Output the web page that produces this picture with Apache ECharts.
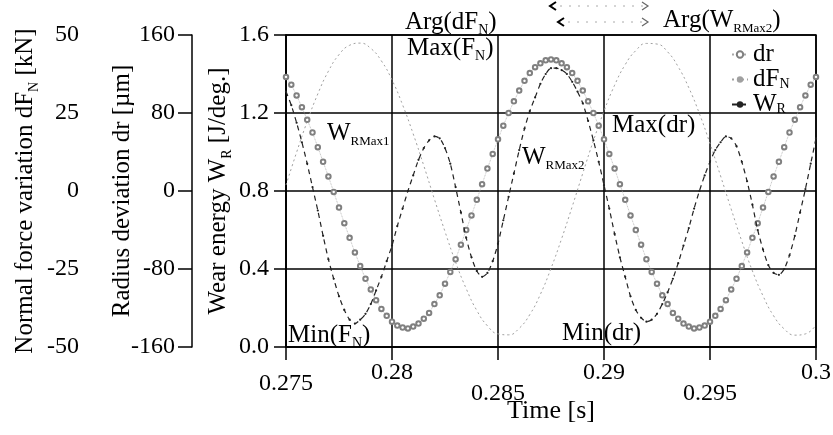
<!DOCTYPE html>
<html><head><meta charset="utf-8">
<script src="https://cdn.jsdelivr.net/npm/echarts@6.0.0/dist/echarts.min.js"></script>
<style>html,body{margin:0;padding:0;background:#fff}#c{width:833px;height:435px}</style>
</head><body><div id="c"></div>
<script>
// ---- data ----
const timeStart = 0.275;          // s
const timeStepFine = 0.00025;     // sampling of dr and W_R
const timeStepCoarse = 0.0005;    // sampling of dF_N

// Radius deviation dr [µm]
const drValues = [117,109,98,86,73,60,45,30,15,-1,
 -17,-33,-48,-63,-77,-90,-101,-112,-121,-128,
 -134,-138,-140,-141,-139,-136,-131,-125,-116,-107,
 -95,-83,-70,-55,-40,-25,-9,7,23,38,
 53,67,80,92,103,113,121,127,131,134,
 135,134,131,127,121,113,103,92,80,67,
 53,38,23,7,-9,-25,-40,-55,-70,-83,
 -95,-107,-116,-125,-131,-136,-139,-141,-140,-138,
 -134,-128,-121,-112,-101,-90,-77,-63,-48,-33,
 -17,-1,15,30,45,60,73,86,98,109,
 117];

// Normal force variation dF_N [kN]
const dFNValues = [1.9,12.4,22.3,31.1,38.4,43.7,46.7,47.4,45.7,41.7,
 35.6,27.6,18.3,8.1,-2.6,-13.0,-22.8,-31.3,-38.3,-43.2,
 -45.8,-46.1,-44.0,-39.6,-33.1,-24.8,-15.3,-5.0,5.7,16.1,
 25.6,33.9,40.5,45.0,47.3,47.1,44.6,39.8,33.1,24.8,
 15.2,4.8,-5.8,-16.1,-25.6,-33.6,-40.0,-44.2,-46.2,-45.8,
 -42.9];

// Wear energy W_R [J/deg.]
const wrValues = [1.31,1.24,1.15,1.05,0.94,0.82,0.70,0.57,0.45,0.35,
 0.26,0.19,0.14,0.12,0.14,0.17,0.22,0.29,0.36,0.44,
 0.52,0.62,0.71,0.80,0.88,0.96,1.02,1.06,1.08,1.07,
 1.02,0.94,0.82,0.69,0.56,0.46,0.39,0.36,0.38,0.44,
 0.53,0.65,0.77,0.89,1.01,1.12,1.21,1.28,1.35,1.40,
 1.43,1.43,1.42,1.40,1.36,1.31,1.25,1.16,1.06,0.95,
 0.83,0.71,0.58,0.46,0.36,0.26,0.19,0.15,0.13,0.14,
 0.17,0.22,0.28,0.35,0.43,0.52,0.61,0.71,0.80,0.88,
 0.95,1.01,1.05,1.08,1.07,1.03,0.95,0.85,0.73,0.60,
 0.50,0.42,0.38,0.37,0.40,0.47,0.57,0.69,0.81,0.94,
 1.07];

const xTickLabels = ['0.275','0.28','0.285','0.29','0.295','0.3'];
const wTickLabels = ['0.0','0.4','0.8','1.2','1.6'];
const drTickLabels = ['-160','-80','0','80','160'];
const dFTickLabels = ['-50','-25','0','25','50'];
const seriesNames = ['dr','dF_N','W_R'];

// ---- styling ----
const SERIF = '"Liberation Serif","Times New Roman",serif';
const BIG = 25, SMALL = 14, TICK = 24;
function subRich(lh){
  return {
    m:{fontSize:BIG,fontFamily:SERIF,color:'#000',lineHeight:lh,verticalAlign:'middle'},
    s:{fontSize:SMALL,fontFamily:SERIF,color:'#000',lineHeight:lh,verticalAlign:'bottom'},
    t:{fontSize:13,fontFamily:SERIF,color:'#000',lineHeight:lh,verticalAlign:'bottom'}
  };
}
const xLevel = ['mid','hi','lo','hi','lo','hi'];

const chart = echarts.init(document.getElementById('c'));
const black = {color:'#000', width:1.5};

const option = {
  animation:false,
  backgroundColor:'#fff',
  grid:{left:286,right:17,top:35,bottom:88,show:true,borderColor:'#000',borderWidth:1.5,
        containLabel:false, outerBoundsMode:'none'},
  legend:{
    orient:'vertical', left:726, top:37, itemGap:0, itemWidth:16, itemHeight:8,
    data:seriesNames,
    formatter:n=>({dr:'{m|dr}',dF_N:'{m|dF}{s|N}',W_R:'{m|W}{s|R}'})[n],
    textStyle:{rich:subRich(24)}
  },
  xAxis:{
    type:'value', min:0.275, max:0.3, interval:0.005,
    name:'Time [s]', nameLocation:'middle', nameGap:51, nameMoveOverlap:false,
    nameTextStyle:{fontSize:26,fontFamily:SERIF,color:'#000'},
    axisLine:{lineStyle:black}, axisTick:{show:true,length:13,lineStyle:black},
    splitLine:{show:true,lineStyle:black},
    axisLabel:{
      margin:14,
      formatter:v=>{const k=Math.round((v-0.275)/0.005);return '{'+xLevel[k]+'|'+xTickLabels[k]+'}';},
      rich:{
        hi:{fontSize:TICK,fontFamily:SERIF,color:'#000'},
        mid:{fontSize:TICK,fontFamily:SERIF,color:'#000',padding:[11,0,0,0]},
        lo:{fontSize:TICK,fontFamily:SERIF,color:'#000',padding:[21,0,0,0]}
      }
    }
  },
  yAxis:[
    {type:'value', position:'left', offset:0, min:0, max:1.6, interval:0.4,
     name:'{m|Wear energy W}{s|R}{m| [J/deg.]}', nameLocation:'middle', nameGap:52, nameMoveOverlap:false,
     nameTextStyle:{rich:subRich(31)},
     axisLine:{show:true,lineStyle:black}, axisTick:{show:true,length:12,lineStyle:black},
     splitLine:{show:true,lineStyle:black},
     axisLabel:{margin:17,fontSize:TICK,fontFamily:SERIF,color:'#000',
       formatter:v=>wTickLabels[Math.round(v/0.4)]}},
    {type:'value', position:'left', offset:94, min:-160, max:160, interval:80,
     name:'{m|Radius deviation dr [µm]}', nameLocation:'middle', nameGap:54, nameMoveOverlap:false,
     nameTextStyle:{rich:subRich(31)},
     axisLine:{show:true,lineStyle:black}, axisTick:{show:true,length:14,lineStyle:black},
     splitLine:{show:false},
     axisLabel:{margin:17,fontSize:TICK,fontFamily:SERIF,color:'#000',
       formatter:v=>drTickLabels[Math.round((v+160)/80)]}},
    {type:'value', position:'left', offset:200, min:-50, max:50, interval:25,
     name:'{m|Normal force variation dF}{s|N}{m| [kN]}', nameLocation:'middle', nameGap:45, nameMoveOverlap:false,
     nameTextStyle:{rich:subRich(31)},
     axisLine:{show:false}, axisTick:{show:false}, splitLine:{show:false},
     axisLabel:{margin:7,fontSize:TICK,fontFamily:SERIF,color:'#000',
       formatter:v=>dFTickLabels[Math.round((v+50)/25)]}}
  ],
  series:[
    {name:'dr', type:'line', yAxisIndex:1, z:3,
     data:drValues.map((v,i)=>[timeStart+i*timeStepFine, v]),
     symbol:'emptyCircle', symbolSize:4.5, showAllSymbol:true,
     itemStyle:{color:'#808080', borderWidth:0.8},
     lineStyle:{color:'#a8a8a8', width:0.8, type:'dotted'}},
    {name:'dF_N', type:'line', yAxisIndex:2, smooth:true, z:2,
     data:dFNValues.map((v,i)=>[timeStart+i*timeStepCoarse, v]),
     symbol:'none', itemStyle:{color:'#a0a0a0'},
     lineStyle:{color:'#a0a0a0', width:1, type:[2,3]}},
    {name:'W_R', type:'line', yAxisIndex:0, smooth:0.25, z:4,
     data:wrValues.map((v,i)=>[timeStart+i*timeStepFine, v]),
     symbol:'circle', symbolSize:2.2, showAllSymbol:true,
     itemStyle:{color:'#222'},
     lineStyle:{color:'#222', width:1.2, type:[5,4]}}
  ],
  graphic:[]
};

function annot(x, y, text){
  return {type:'text', x:x, y:y, z:10, silent:true,
    style:{text:text, rich:subRich(30), align:'left', verticalAlign:'middle'}};
}
option.graphic = [
  annot(405, 22, '{m|Arg(dF}{s|N}{m|)}'),
  annot(407, 48, '{m|Max(F}{s|N}{m|)}'),
  annot(327, 133, '{m|W}{t|RMax1}'),
  annot(522, 157, '{m|W}{t|RMax2}'),
  annot(612, 125, '{m|Max(dr)}'),
  annot(288, 335, '{m|Min(F}{s|N}{m|)}'),
  annot(562, 333, '{m|Min(dr)}'),
  annot(663, 20, '{m|Arg(W}{t|RMax2}{m|)}'),
  {type:'line', shape:{x1:551,y1:6,x2:646,y2:6}, style:{stroke:'#aaa',lineWidth:1,lineDash:[2,7]}},
  {type:'line', shape:{x1:559,y1:22,x2:646,y2:22}, style:{stroke:'#aaa',lineWidth:1,lineDash:[2,7]}},
  {type:'polyline', shape:{points:[[556,2],[550,6],[556,10]]}, style:{stroke:'#000',lineWidth:2,fill:null}},
  {type:'polyline', shape:{points:[[564,18],[558,22],[564,26]]}, style:{stroke:'#000',lineWidth:2,fill:null}},
  {type:'polyline', shape:{points:[[642,2],[648,6],[642,10]]}, style:{stroke:'#666',lineWidth:1.2,fill:null}},
  {type:'polyline', shape:{points:[[642,18],[648,22],[642,26]]}, style:{stroke:'#666',lineWidth:1.2,fill:null}}
];
chart.setOption(option);
</script></body></html>
